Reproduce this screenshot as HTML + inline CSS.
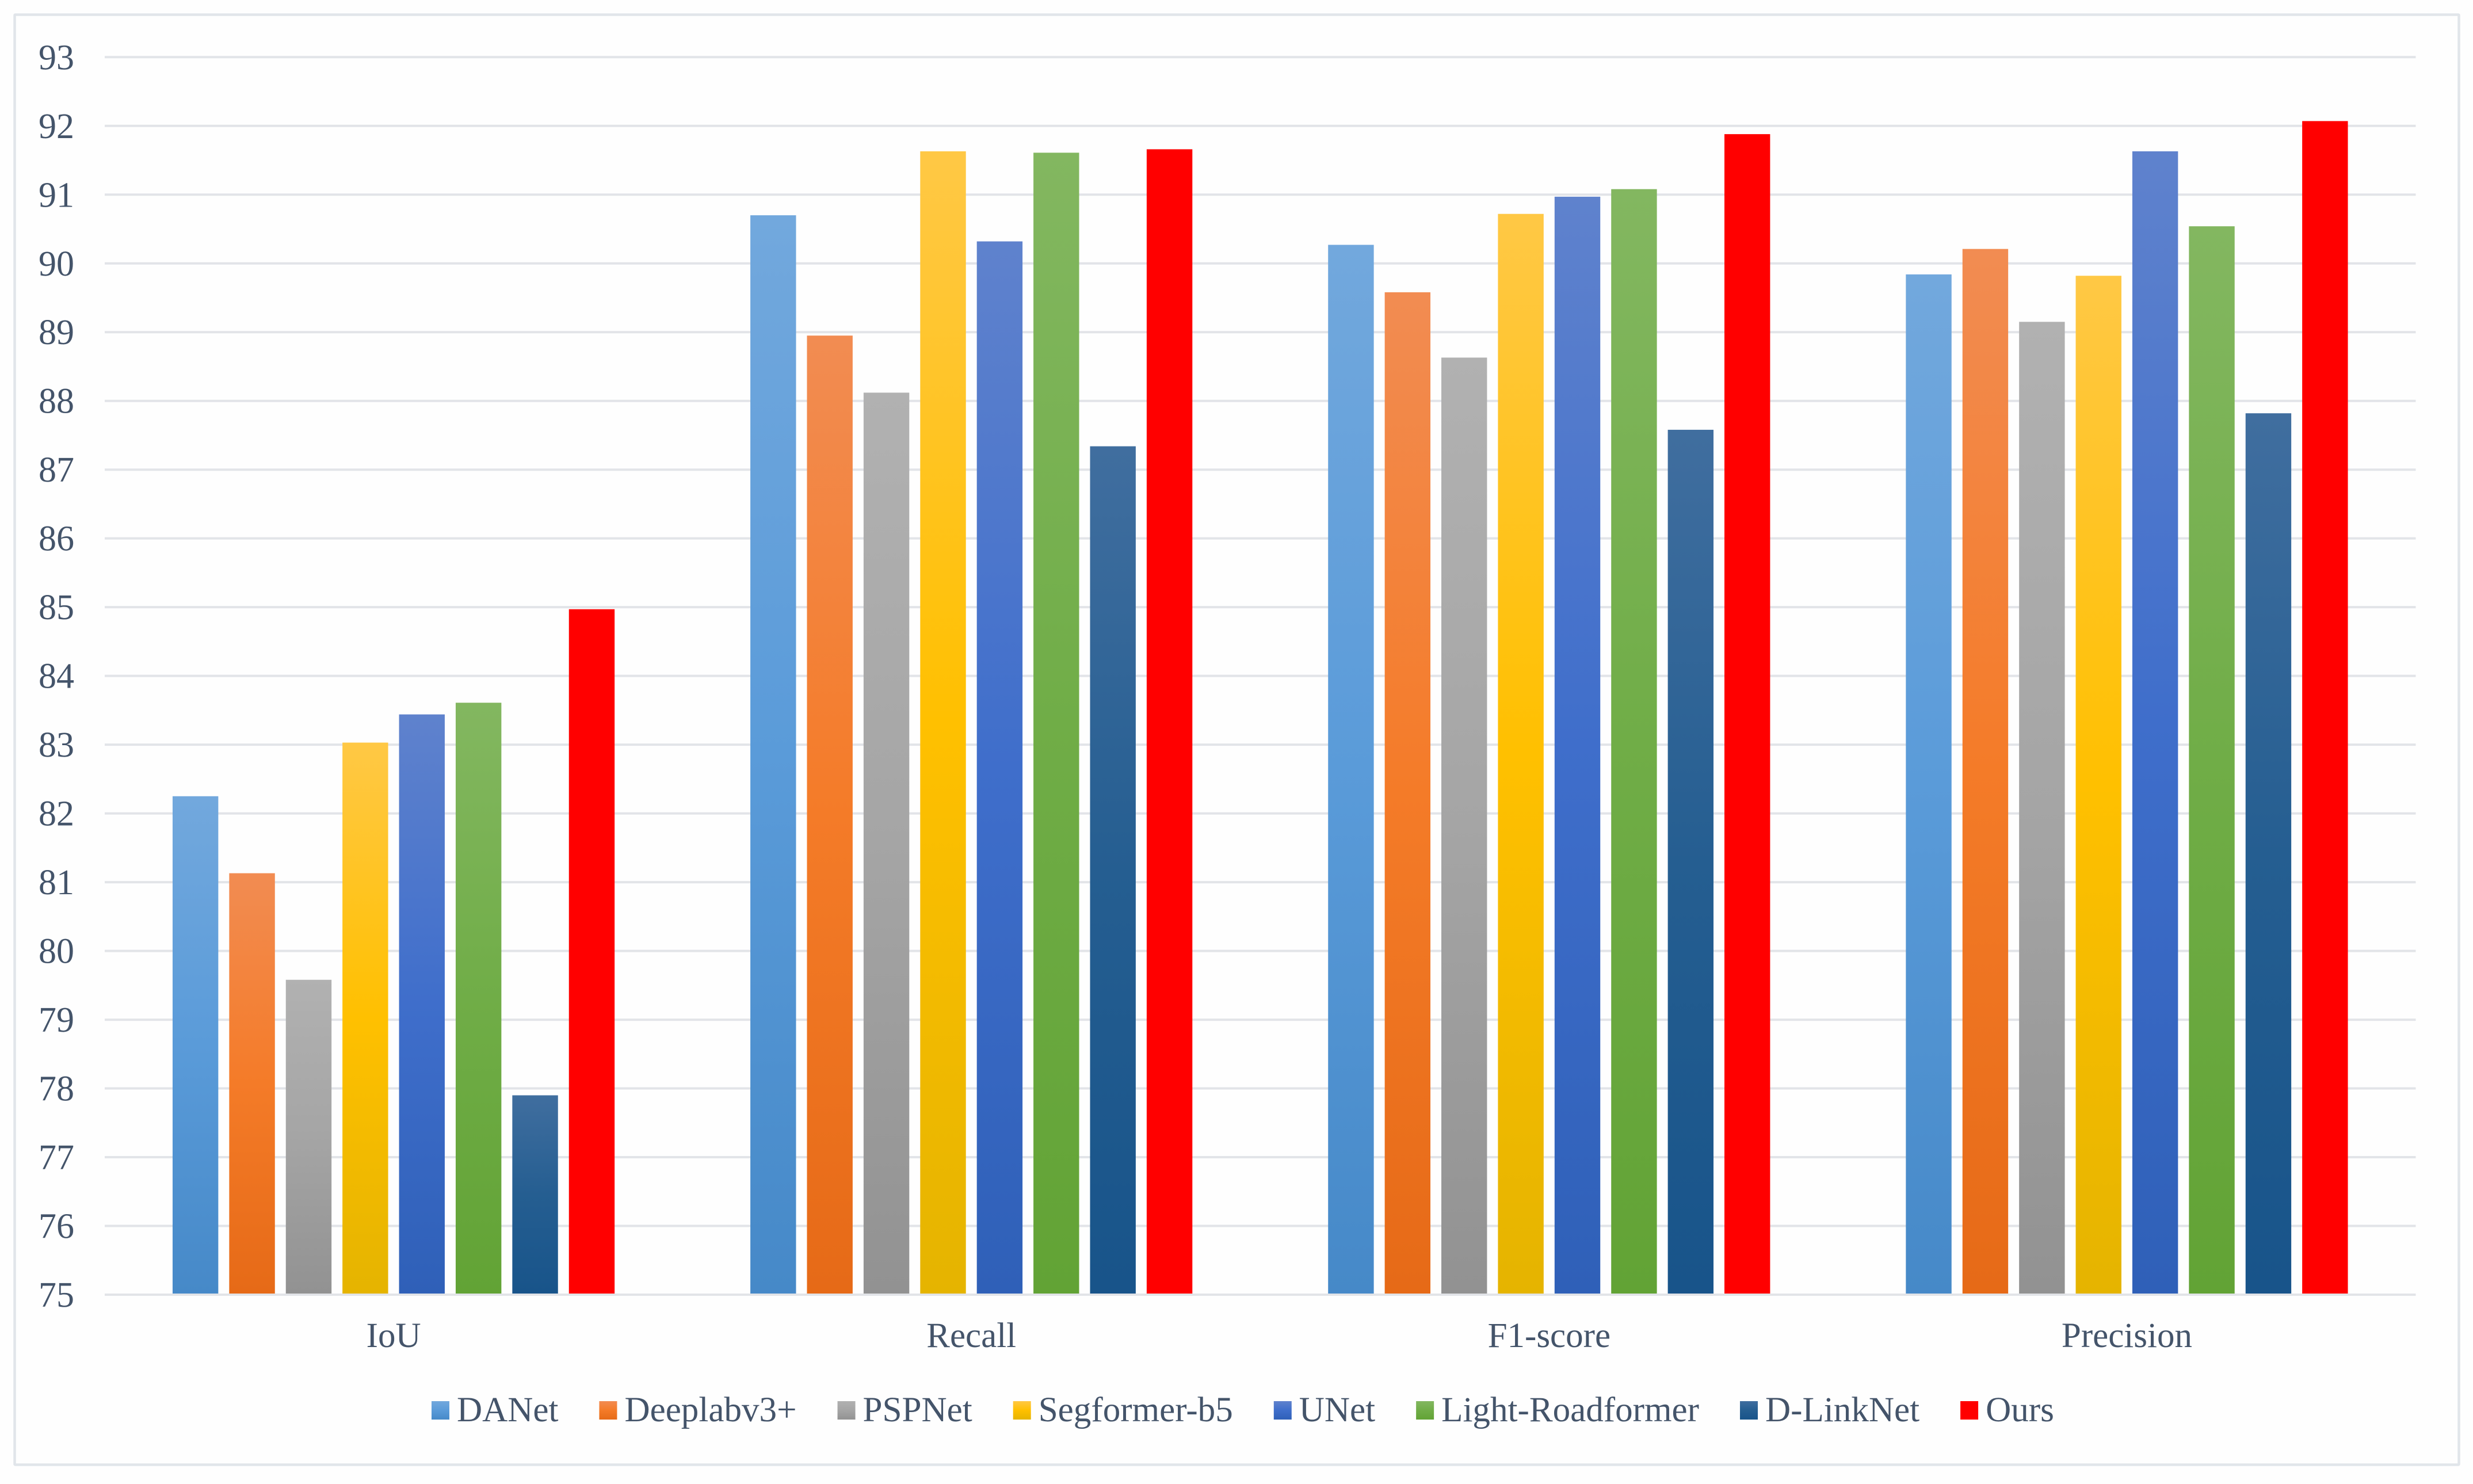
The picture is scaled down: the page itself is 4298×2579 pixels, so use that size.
<!DOCTYPE html>
<html lang="en">
<head>
<meta charset="utf-8">
<title>Segmentation metrics by model</title>
<style>
  html, body { margin: 0; padding: 0; width: 4298px; height: 2579px; background: #fefefe; overflow: hidden; }
  svg { display: block; }
  text { font-family: "Liberation Serif", "Times New Roman", serif; fill: #44546a; font-size: 61px; }
</style>
</head>
<body>
<svg id="chart" xmlns="http://www.w3.org/2000/svg" width="4298" height="2579" viewBox="0 0 4298 2579">
  <defs>
    <linearGradient id="grad-0" x1="0" y1="0" x2="0" y2="1"><stop offset="0" stop-color="#72a8dd"/><stop offset="0.5" stop-color="#5a9bd9"/><stop offset="1" stop-color="#4689c8"/></linearGradient>
    <linearGradient id="grad-1" x1="0" y1="0" x2="0" y2="1"><stop offset="0" stop-color="#f28c52"/><stop offset="0.5" stop-color="#f47b28"/><stop offset="1" stop-color="#e66a17"/></linearGradient>
    <linearGradient id="grad-2" x1="0" y1="0" x2="0" y2="1"><stop offset="0" stop-color="#b1b1b1"/><stop offset="0.5" stop-color="#a5a5a5"/><stop offset="1" stop-color="#929292"/></linearGradient>
    <linearGradient id="grad-3" x1="0" y1="0" x2="0" y2="1"><stop offset="0" stop-color="#ffc845"/><stop offset="0.5" stop-color="#ffc000"/><stop offset="1" stop-color="#e5b400"/></linearGradient>
    <linearGradient id="grad-4" x1="0" y1="0" x2="0" y2="1"><stop offset="0" stop-color="#5f82cd"/><stop offset="0.5" stop-color="#3f6ecb"/><stop offset="1" stop-color="#2f60b8"/></linearGradient>
    <linearGradient id="grad-5" x1="0" y1="0" x2="0" y2="1"><stop offset="0" stop-color="#83b760"/><stop offset="0.5" stop-color="#70ad47"/><stop offset="1" stop-color="#62a335"/></linearGradient>
    <linearGradient id="grad-6" x1="0" y1="0" x2="0" y2="1"><stop offset="0" stop-color="#406e9f"/><stop offset="0.5" stop-color="#255e91"/><stop offset="1" stop-color="#18548a"/></linearGradient>
    <linearGradient id="grad-7" x1="0" y1="0" x2="0" y2="1"><stop offset="0" stop-color="#ff0000"/><stop offset="1" stop-color="#ff0000"/></linearGradient>
  </defs>
  <rect x="25.5" y="25.5" width="4248" height="2520" fill="#fefefe" stroke="#e1e5ea" stroke-width="4.5" rx="1"/>
  <g id="grid"></g>
  <g id="y-ticks"></g>
  <g id="bars"></g>
  <g id="x-labels"></g>
  <g id="legend"></g>
</svg>
<script>
const categories = ["IoU", "Recall", "F1-score", "Precision"];
const seriesNames = ["DANet", "Deeplabv3+", "PSPNet", "Segformer-b5", "UNet", "Light-Roadformer", "D-LinkNet", "Ours"];
const tickLabels = [75, 76, 77, 78, 79, 80, 81, 82, 83, 84, 85, 86, 87, 88, 89, 90, 91, 92, 93];

const danet = [82.25, 90.70, 90.27, 89.84];
const deeplab = [81.13, 88.95, 89.58, 90.21];
const pspnet = [79.58, 88.12, 88.63, 89.15];
const segformer = [83.03, 91.63, 90.72, 89.82];
const unet = [83.44, 90.32, 90.97, 91.63];
const lightRoadformer = [83.61, 91.61, 91.08, 90.54];
const dLinkNet = [77.90, 87.34, 87.58, 87.82];
const ours = [84.97, 91.66, 91.88, 92.07];
const seriesValues = [danet, deeplab, pspnet, segformer, unet, lightRoadformer, dLinkNet, ours];

const SVG_NS = "http://www.w3.org/2000/svg";
const plotLeft = 182;
const plotRight = 4198.5;
const axisMin = tickLabels[0];
const axisMax = tickLabels[tickLabels.length - 1];
const yBase = 2250;
const yTop = 99.3;
const barWidth = 79.4;
const barPitch = 98.4;
const barFloor = 2;

function yScale(v) {
  return yBase - (v - axisMin) / (axisMax - axisMin) * (yBase - yTop);
}
function categoryCenter(i) {
  return plotLeft + (i + 0.5) * (plotRight - plotLeft) / categories.length;
}
function barX(cat, ser) {
  const groupWidth = barPitch * (seriesValues.length - 1) + barWidth;
  return categoryCenter(cat) - groupWidth / 2 + ser * barPitch;
}
function make(tag, attrs, parent) {
  const el = document.createElementNS(SVG_NS, tag);
  for (const k in attrs) el.setAttribute(k, attrs[k]);
  parent.appendChild(el);
  return el;
}
function slug(s) {
  return String(s).toLowerCase().replace(/[^a-z0-9]+/g, "-").replace(/^-|-$/g, "");
}

const gridGroup = document.getElementById("grid");
const tickGroup = document.getElementById("y-ticks");
tickLabels.forEach(function (t) {
  const y = yScale(t);
  const line = make("line", { x1: plotLeft, x2: plotRight, y1: y, y2: y, stroke: "#e2e4e8", "stroke-width": 4 }, gridGroup);
  
  
  const label = make("text", { x: 129, y: y + 21, "text-anchor": "end", style: "font-size:62px" }, tickGroup);
  
  
  label.textContent = t;
});

const barsGroup = document.getElementById("bars");
seriesValues.forEach(function (values, s) {
  const group = make("g", { fill: "url(#grad-" + s + ")" }, barsGroup);
  
  
  values.forEach(function (v, c) {
    const top = yScale(v);
    const bar = make("rect", { x: barX(c, s), y: top, width: barWidth, height: yBase - barFloor - top }, group);
    
    
  });
});

const xGroup = document.getElementById("x-labels");
categories.forEach(function (name, i) {
  const label = make("text", { x: categoryCenter(i), y: 2341, "text-anchor": "middle" }, xGroup);
  
  
  label.textContent = name;
});

const legendGroup = document.getElementById("legend");
let legendX = 750;
seriesNames.forEach(function (name, s) {
  const entry = make("g", {}, legendGroup);
  
  
  const swatch = make("rect", { x: legendX, y: 2435, width: 31, height: 32, fill: "url(#grad-" + s + ")" }, entry);
  
  
  const label = make("text", { x: legendX + 44, y: 2470, style: "font-size:61.1px" }, entry);
  
  
  label.textContent = name;
  legendX += 44 + label.getComputedTextLength() + 71;
});
</script>
</body>
</html>
